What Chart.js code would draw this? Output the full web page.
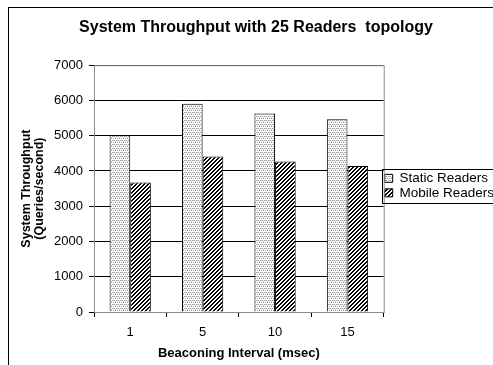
<!DOCTYPE html>
<html>
<head>
<meta charset="utf-8">
<script src="https://cdn.jsdelivr.net/npm/chart.js@4"></script>
<style>
  html, body { margin: 0; padding: 0; background: #fff; }
  body { width: 493px; height: 365px; overflow: hidden; position: relative; }
  #frame { position: absolute; left: 8px; top: 7px; width: 600px; height: 400px;
           border-left: 1px solid #000; border-top: 1px solid #000; }
  #wrap { position: absolute; left: 0; top: 0; }
</style>
</head>
<body>
<div id="frame"></div>
<div id="wrap"><canvas id="chart" width="504" height="365"></canvas></div>
<script>
const categories = ['1', '5', '10', '15'];
const staticReaders = [5020, 5910, 5630, 5470];
const mobileReaders = [3670, 4410, 4270, 4140];
const seriesNames = ['Static Readers', 'Mobile Readers'];
const yMax = 7000;
const yStep = 1000;

const fontFamily = '"Liberation Sans", Arial, sans-serif';

function dottedPattern() {
    const c = document.createElement('canvas');
    c.width = 4; c.height = 4;
    const g = c.getContext('2d');
    g.fillStyle = '#ffffff';
    g.fillRect(0, 0, 4, 4);
    g.fillStyle = '#9a9a9a';
    g.fillRect(0, 0, 1, 1);
    g.fillRect(2, 0, 1, 1);
    g.fillRect(1, 2, 1, 1);
    g.fillRect(3, 2, 1, 1);
    g.fillStyle = '#cfcfcf';
    g.fillRect(1, 0, 1, 1);
    g.fillRect(3, 1, 1, 1);
    return g.createPattern(c, 'repeat');
}

function hatchPattern() {
    const c = document.createElement('canvas');
    c.width = 4; c.height = 4;
    const g = c.getContext('2d');
    g.fillStyle = '#ffffff';
    g.fillRect(0, 0, 4, 4);
    g.fillStyle = '#000000';
    for (let i = 0; i < 4; i++) {
        g.fillRect(i, 3 - i, 1, 1);
        g.fillRect((i + 1) % 4, 3 - i, 1, 1);
    }
    return g.createPattern(c, 'repeat');
}

// grey plot-area border and a box round the legend items
const boxes = {
    id: 'boxes',
    beforeDatasetsDraw(chart) {
        const a = chart.chartArea;
        const ctx = chart.ctx;
        ctx.save();
        ctx.strokeStyle = '#8c8c8c';
        ctx.lineWidth = 1;
        ctx.strokeRect(a.left + 0.5, a.top + 0.5, a.right - a.left, a.bottom - a.top);
        ctx.restore();
    },
    afterDraw(chart) {
        const hits = chart.legend.legendHitBoxes;
        if (!hits || !hits.length) return;
        const left = Math.min(...hits.map(h => h.left)) - 3;
        const top = Math.min(...hits.map(h => h.top)) - 3;
        const bottom = Math.max(...hits.map(h => h.top + h.height)) + 3;
        const ctx = chart.ctx;
        ctx.save();
        ctx.strokeStyle = '#000';
        ctx.lineWidth = 1;
        ctx.strokeRect(Math.round(left) + 0.5, Math.round(top) + 0.5, 200, Math.round(bottom - top));
        ctx.restore();
    }
};

const ctx = document.getElementById('chart').getContext('2d');
const chart = new Chart(ctx, {
    type: 'bar',
    data: {
        labels: categories,
        datasets: [{
            label: seriesNames[0],
            data: staticReaders,
            backgroundColor: dottedPattern(),
            borderColor: '#000',
            borderWidth: 1
        }, {
            label: seriesNames[1],
            data: mobileReaders,
            backgroundColor: hatchPattern(),
            borderColor: '#000',
            borderWidth: 1
        }]
    },
    options: {
        responsive: false,
        animation: false,
        layout: { padding: { left: 8, right: 0, top: 0, bottom: 5 } },
        datasets: { bar: { barPercentage: 1, categoryPercentage: 0.57 } },
        plugins: {
            title: {
                display: true,
                text: 'System Throughput with 25 Readers  topology',
                color: '#000',
                font: { family: fontFamily, size: 16, weight: 'bold' },
                padding: { top: 18, bottom: 28 }
            },
            legend: {
                position: 'right',
                align: 'center',
                title: { display: true, text: '', font: { size: 1 }, padding: { top: 5, bottom: 5 } },
                labels: {
                    color: '#000',
                    font: { family: fontFamily, size: 13.5 },
                    boxWidth: 8,
                    boxHeight: 8,
                    padding: 1
                }
            },
            tooltip: { enabled: false }
        },
        scales: {
            x: {
                afterFit(scale) { scale.height = 48; },
                grid: { drawOnChartArea: false, color: '#000', tickLength: 5, offset: true },
                border: { color: '#000' },
                ticks: { color: '#000', font: { family: fontFamily, size: 13, lineHeight: 1.0 }, padding: 9 },
                title: {
                    display: true,
                    text: 'Beaconing Interval (msec)',
                    color: '#000',
                    font: { family: fontFamily, size: 13, weight: 'bold', lineHeight: 1.0 },
                    padding: { top: 3, bottom: 0 }
                }
            },
            y: {
                min: 0,
                max: yMax,
                afterFit(scale) { scale.width = 86; },
                grid: { color: '#000', tickLength: 5 },
                border: { color: '#000' },
                ticks: {
                    stepSize: yStep,
                    color: '#000',
                    font: { family: fontFamily, size: 13 },
                    padding: 6,
                    callback: v => String(v)
                },
                title: {
                    display: true,
                    text: ['System Throughput', '(Queries/second)'],
                    color: '#000',
                    font: { family: fontFamily, size: 12.5, weight: 'bold', lineHeight: 1.05 },
                    padding: { top: 12, bottom: 4 }
                }
            }
        }
    },
    plugins: [boxes]
});
</script>
</body>
</html>
